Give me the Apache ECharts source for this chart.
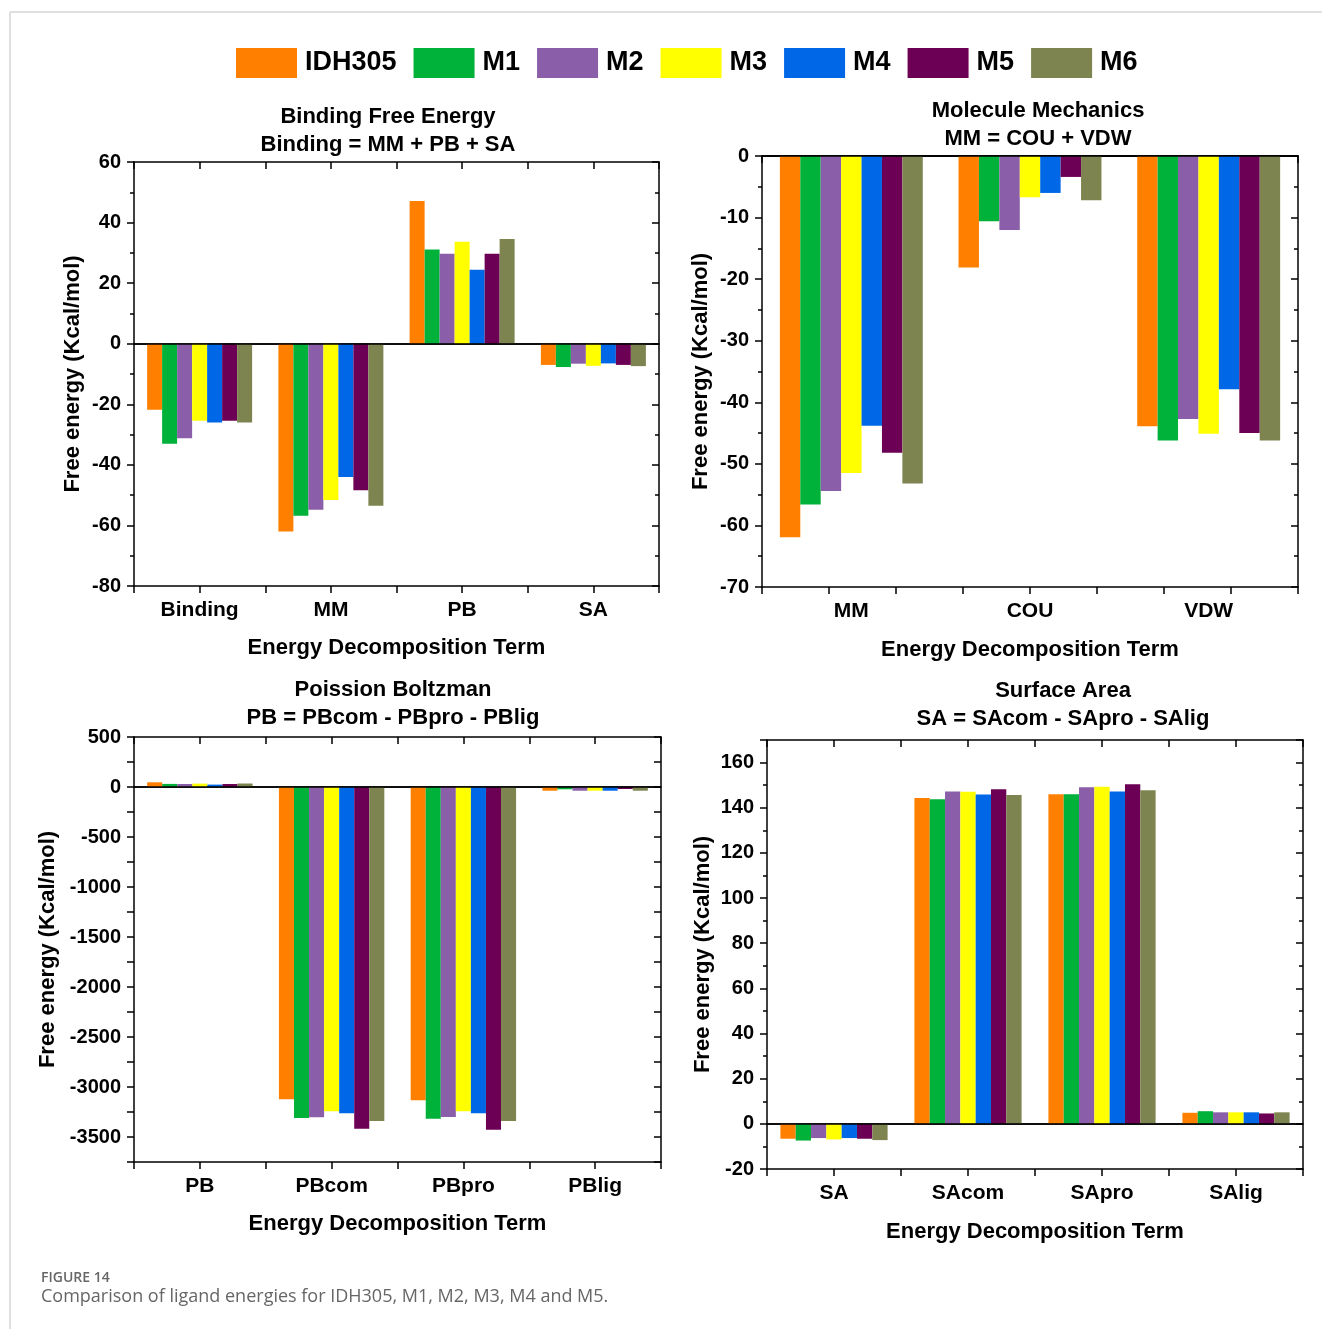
<!DOCTYPE html>
<html>
<head>
<meta charset="utf-8" />
<title>Comparison of ligand energies</title>
<script src="https://cdn.jsdelivr.net/npm/echarts@6/dist/echarts.min.js"></script>
<style>body{margin:0;background:#fff}</style>
</head>
<body>
<div id="main" style="width:1322px;height:1329px;"></div>
<script>
// models and their colours
var models = ['IDH305', 'M1', 'M2', 'M3', 'M4', 'M5', 'M6'];
var colors = ['#ff8000', '#00b13a', '#8a5ea9', '#ffff00', '#0068e6', '#6c0055', '#7e8450'];

// Binding free energy: Binding, MM, PB, SA (one row per model)
var bindCats = ['Binding', 'MM', 'PB', 'SA'];
var bindVals = [
    [-21.8, -62.0, 47.1, -7.0],
    [-33.0, -56.8, 31.1, -7.7],
    [-31.2, -54.8, 29.7, -6.6],
    [-25.4, -51.6, 33.7, -7.3],
    [-26.0, -44.0, 24.4, -6.5],
    [-25.4, -48.4, 29.7, -7.0],
    [-26.0, -53.5, 34.6, -7.4]
];

// Molecule mechanics: MM, COU, VDW
var mmCats = ['MM', 'COU', 'VDW'];
var mmVals = [
    [-61.9, -18.1, -43.9],
    [-56.6, -10.6, -46.2],
    [-54.4, -12.0, -42.7],
    [-51.5, -6.7, -45.1],
    [-43.8, -6.0, -37.9],
    [-48.2, -3.4, -45.0],
    [-53.2, -7.2, -46.2]
];

// Poisson Boltzmann: PB, PBcom, PBpro, PBlig
var pbCats = ['PB', 'PBcom', 'PBpro', 'PBlig'];
var pbVals = [
    [47, -3123, -3133, -37],
    [31, -3310, -3317, -23],
    [30, -3303, -3300, -37],
    [34, -3243, -3243, -37],
    [24, -3263, -3263, -37],
    [30, -3417, -3427, -20],
    [35, -3340, -3340, -37]
];

// Surface area: SA, SAcom, SApro, SAlig
var saCats = ['SA', 'SAcom', 'SApro', 'SAlig'];
var saVals = [
    [-6.6, 144.3, 146.0, 4.9],
    [-7.4, 143.8, 146.0, 5.6],
    [-6.3, 147.2, 149.1, 5.1],
    [-6.9, 147.1, 149.3, 5.1],
    [-6.3, 145.9, 147.2, 5.1],
    [-6.6, 148.2, 150.4, 4.6],
    [-7.2, 145.6, 147.8, 5.1]
];

var FONT = '"Liberation Sans", Arial, sans-serif';
var BLACK = '#000';

var panels = [
    {cats: bindCats, vals: bindVals, rect: {left: 134, top: 162, width: 525, height: 424},
     min: -80, max: 60, interval: 20, minor: 2, yGap: 50, xGap: 51,
     t1: 'Binding Free Energy', t2: 'Binding = MM + PB + SA', tx: 388, ty: 117,
     fmt: function (v) { return v; }},
    {cats: mmCats, vals: mmVals, rect: {left: 762, top: 156, width: 536, height: 431},
     min: -70, max: 0, interval: 10, minor: 2, yGap: 50, xGap: 52,
     t1: 'Molecule Mechanics', t2: 'MM = COU + VDW', tx: 1038, ty: 111,
     fmt: function (v) { return v; }},
    {cats: pbCats, vals: pbVals, rect: {left: 134, top: 737, width: 527, height: 425},
     min: -3750, max: 500, interval: 250, minor: 0, yGap: 75, xGap: 51,
     t1: 'Poission Boltzman', t2: 'PB = PBcom - PBpro - PBlig', tx: 393, ty: 690,
     fmt: function (v) { return v % 500 === 0 ? v : ''; }},
    {cats: saCats, vals: saVals, rect: {left: 767, top: 740, width: 536, height: 429},
     min: -20, max: 170, interval: 20, minor: 2, yGap: 53, xGap: 52,
     t1: 'Surface Area', t2: 'SA = SAcom - SApro - SAlig', tx: 1063, ty: 691,
     fmt: function (v) { return v === 170 ? '' : v; }}
];

var grid = [], xAxis = [], yAxis = [], series = [], graphic = [];
var lineSt = {color: BLACK, width: 1.5};
var boldText = {color: BLACK, fontWeight: 'bold', fontSize: 21, fontFamily: FONT};

panels.forEach(function (p, i) {
    var g = grid.length;
    grid.push(Object.assign({containLabel: false}, p.rect));
    // overlay grid just for the top/bottom half-category ticks
    grid.push(Object.assign({containLabel: false}, p.rect));

    var xi = xAxis.length;
    xAxis.push({
        type: 'category', gridIndex: g, data: p.cats, position: 'bottom',
        axisLine: {show: true, lineStyle: lineSt},
        axisTick: {show: false},
        axisLabel: Object.assign({margin: 14}, boldText),
        name: 'Energy Decomposition Term', nameLocation: 'middle', nameGap: p.xGap,
        nameTextStyle: Object.assign({}, boldText, {fontSize: 22})
    });
    xAxis.push({
        type: 'value', gridIndex: g + 1, min: 0, max: 8, interval: 1, position: 'bottom',
        axisLine: {show: true, lineStyle: lineSt},
        axisTick: {show: true, inside: false, length: 7, lineStyle: lineSt},
        axisLabel: {show: false}, splitLine: {show: false}
    });
    xAxis.push({
        type: 'value', gridIndex: g + 1, min: 0, max: 8, interval: 1, position: 'top',
        axisLine: {show: true, lineStyle: lineSt},
        axisTick: {show: true, inside: true, length: 7, lineStyle: lineSt},
        axisLabel: {show: false}, splitLine: {show: false}
    });

    var yi = yAxis.length;
    yAxis.push({
        type: 'value', gridIndex: g, min: p.min, max: p.max, interval: p.interval, position: 'left',
        axisLine: {show: true, lineStyle: lineSt},
        axisTick: {show: true, inside: false, length: 7, lineStyle: lineSt},
        minorTick: {show: p.minor > 0, splitNumber: p.minor || 5, length: 4, lineStyle: lineSt},
        axisLabel: Object.assign({margin: 13, formatter: p.fmt}, boldText, {fontSize: 20}),
        splitLine: {show: false},
        name: 'Free energy (Kcal/mol)', nameLocation: 'middle', nameGap: p.yGap,
        nameTextStyle: Object.assign({}, boldText, {fontSize: 22})
    });
    yAxis.push({
        type: 'value', gridIndex: g, min: p.min, max: p.max, interval: p.interval, position: 'right',
        axisLine: {show: true, lineStyle: lineSt},
        axisTick: {show: true, inside: true, length: 7, lineStyle: lineSt},
        minorTick: {show: p.minor > 0, splitNumber: p.minor || 5, length: 4, lineStyle: lineSt},
        axisLabel: {show: false}, splitLine: {show: false}
    });
    yAxis.push({type: 'value', gridIndex: g + 1, min: 0, max: 1, show: false});

    models.forEach(function (m, k) {
        var s = {
            name: m, type: 'bar', xAxisIndex: xi, yAxisIndex: yi,
            data: p.vals[k], barGap: '0%', barCategoryGap: '20%',
            itemStyle: {color: colors[k]}
        };
        if (k === 0) {
            s.markLine = {
                silent: true, symbol: ['none', 'none'], label: {show: false},
                lineStyle: {color: BLACK, width: 1.5, type: 'solid'},
                data: [{yAxis: 0}], z: 10
            };
        }
        series.push(s);
    });

    graphic.push({type: 'text', x: p.tx, y: p.ty, z: 20,
        style: {text: p.t1, font: 'bold 22px ' + FONT, fill: BLACK,
            textAlign: 'center', textVerticalAlign: 'middle', align: 'center', verticalAlign: 'middle'}});
    graphic.push({type: 'text', x: p.tx, y: p.ty + 28, z: 20,
        style: {text: p.t2, font: 'bold 22px ' + FONT, fill: BLACK,
            textAlign: 'center', textVerticalAlign: 'middle', align: 'center', verticalAlign: 'middle'}});
});

// page frame and caption
graphic.push({type: 'line', shape: {x1: 10, y1: 12, x2: 1322, y2: 12}, style: {stroke: '#d4d4d4', lineWidth: 1.5}});
graphic.push({type: 'line', shape: {x1: 10, y1: 12, x2: 10, y2: 1329}, style: {stroke: '#d4d4d4', lineWidth: 1.5}});
graphic.push({type: 'text', x: 41, y: 1278,
    style: {text: 'FIGURE 14', font: '600 14px "Open Sans", sans-serif', fill: '#666',
        textVerticalAlign: 'middle', verticalAlign: 'middle'}});
graphic.push({type: 'text', x: 41, y: 1297,
    style: {text: 'Comparison of ligand energies for IDH305, M1, M2, M3, M4 and M5.',
        font: '18px "Open Sans", sans-serif', fill: '#666',
        textVerticalAlign: 'middle', verticalAlign: 'middle'}});

var option = {
    backgroundColor: '#fff',
    animation: false,
    color: colors,
    legend: {
        data: models, left: 236, top: 48, padding: 0,
        itemWidth: 61, itemHeight: 30, itemGap: 17, icon: 'rect',
        textStyle: {color: BLACK, fontWeight: 'bold', fontSize: 27, fontFamily: FONT, padding: [0, 0, 0, 3]}
    },
    grid: grid,
    xAxis: xAxis,
    yAxis: yAxis,
    series: series,
    graphic: graphic
};

var chart = echarts.init(document.getElementById('main'));
chart.setOption(option);
</script>
</body>
</html>
